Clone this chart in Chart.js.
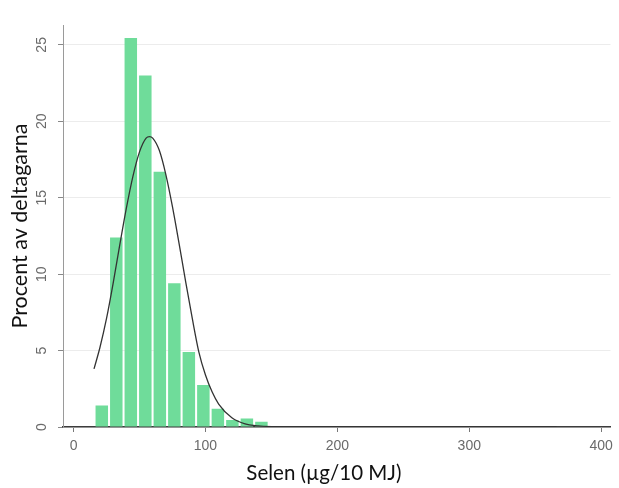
<!DOCTYPE html>
<html>
<head>
<meta charset="utf-8">
<script src="https://cdn.jsdelivr.net/npm/chart.js@4.4.1/dist/chart.umd.min.js"></script>
<style>
  html, body { margin: 0; padding: 0; background: #ffffff; }
  #wrap { width: 619px; height: 488px; position: relative; }
</style>
</head>
<body>
<div id="wrap"><canvas id="c"></canvas></div>
<script>
// Histogram bins (bin centres, µg/10 MJ) and percent of participants
const binCenters = [21.4, 32.4, 43.4, 54.4, 65.4, 76.4, 87.4, 98.4, 109.4, 120.4, 131.4, 142.4];
const percents   = [1.4, 12.4, 25.45, 23.0, 16.7, 9.4, 4.9, 2.75, 1.2, 0.45, 0.55, 0.35];

// Fitted normal curve
const curveX = [15.5, 20, 25, 30, 35, 40, 45, 50, 55, 57.6, 60, 65, 70, 75, 80, 85, 90, 95, 100, 105, 110, 120, 130, 140, 150, 170, 366];
const curveY = [3.8, 5.2, 7.1, 9.4, 11.9, 14.3, 16.4, 18.0, 18.9, 19.0, 18.9, 18.1, 16.5, 14.4, 12.0, 9.5, 7.1, 4.9, 3.4, 2.3, 1.5, 0.6, 0.2, 0.08, 0.03, 0, 0];

// Axis ticks
const xTicks = [0, 100, 200, 300, 400];
const yTicks = [0, 5, 10, 15, 20, 25];

const barData = binCenters.map((x, i) => ({ x: x, y: percents[i] }));
const lineData = curveX.map((x, i) => ({ x: x, y: curveY[i] }));

new Chart(document.getElementById('c'), {
  data: {
    datasets: [
      {
        type: 'line',
        data: lineData,
        borderColor: '#333333',
        borderWidth: 1.3,
        pointRadius: 0,
        cubicInterpolationMode: 'monotone',
        fill: false,
        order: 0
      },
      {
        type: 'bar',
        data: barData,
        backgroundColor: '#6FDC9A',
        borderWidth: 0,
        categoryPercentage: 1,
        barPercentage: 0.86,
        order: 1
      }
    ]
  },
  options: {
    responsive: true,
    maintainAspectRatio: false,
    animation: false,
    layout: { padding: { top: 25, right: 6, left: 0, bottom: 0 } },
    plugins: { legend: { display: false }, tooltip: { enabled: false } },
    scales: {
      x: {
        type: 'linear',
        min: -8,
        max: 407,
        offset: false,
        afterBuildTicks: (s) => { s.ticks = xTicks.map(v => ({ value: v })); },
        afterFit: (s) => { s.height = 61; },
        grid: { offset: false, drawOnChartArea: false, drawTicks: true, tickLength: 5, tickColor: '#777', tickWidth: 1 },
        border: { display: true, color: '#3c3c3c', width: 1.6 },
        ticks: {
          padding: 6,
          color: '#6a6a6a',
          font: { family: 'Liberation Sans, Arial, sans-serif', size: 14 },
          maxRotation: 0,
          autoSkip: false
        },
        title: {
          display: true,
          text: 'Selen (µg/10 MJ)\u2003\u2002',
          color: '#111',
          font: { family: 'Lato, sans-serif', size: 20.5 },
          padding: { top: 0, bottom: 2 }
        }
      },
      y: {
        type: 'linear',
        min: 0,
        max: 26.3,
        afterBuildTicks: (s) => { s.ticks = yTicks.map(v => ({ value: v })); },
        afterFit: (s) => { s.width = 63; },
        grid: { color: '#ececec', lineWidth: 1, drawTicks: true, tickLength: 5, tickColor: '#888' },
        border: { display: true, color: '#9a9a9a', width: 1 },
        ticks: {
          padding: 8,
          minRotation: 90,
          maxRotation: 90,
          crossAlign: 'center',
          color: '#6a6a6a',
          font: { family: 'Liberation Sans, Arial, sans-serif', size: 14 }
        },
        title: {
          display: true,
          text: 'Procent av deltagarna',
          color: '#111',
          font: { family: 'Lato, sans-serif', size: 21.5 },
          padding: { top: 7, bottom: 0 }
        }
      }
    }
  }
});
</script>
</body>
</html>
